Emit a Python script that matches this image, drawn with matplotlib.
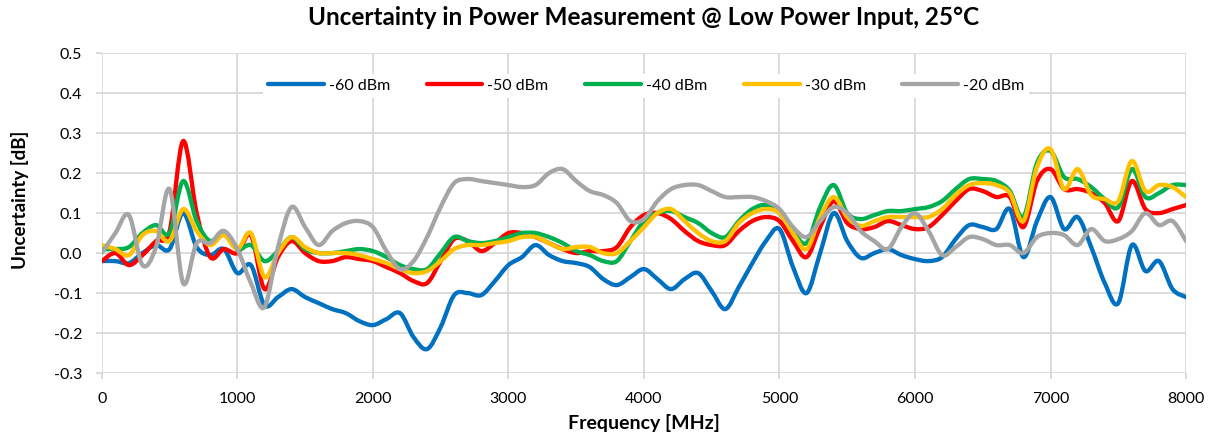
import numpy as np
import matplotlib.pyplot as plt
from matplotlib.path import Path
from matplotlib.patches import PathPatch
from matplotlib.lines import Line2D

freq_mhz = list(range(0, 8001, 100))

# -60 dBm
u_m60 = [-0.02, -0.02, -0.025, 0.0, 0.02, 0.01, 0.10, 0.015, -0.005, 0.01,
         -0.05, -0.03, -0.13, -0.11, -0.09, -0.11, -0.125, -0.14, -0.15, -0.17,
         -0.18, -0.165, -0.15, -0.21, -0.24, -0.185, -0.105, -0.10, -0.105, -0.07,
         -0.03, -0.01, 0.02, -0.005, -0.02, -0.025, -0.035, -0.065, -0.08, -0.06,
         -0.04, -0.065, -0.09, -0.065, -0.05, -0.095, -0.14, -0.085, -0.025, 0.03,
         0.06, -0.035, -0.10, 0.0, 0.10, 0.03, -0.012, 0.0, 0.01, -0.005,
         -0.015, -0.02, -0.01, 0.035, 0.07, 0.065, 0.06, 0.11, -0.01, 0.08,
         0.14, 0.06, 0.09, 0.015, -0.075, -0.125, 0.02, -0.045, -0.02, -0.09,
         -0.11]
# -50 dBm
u_m50 = [-0.02, 0.0, -0.03, -0.005, 0.03, 0.055, 0.28, 0.10, -0.01, 0.01,
         0.0, 0.045, -0.09, -0.01, 0.03, 0.0, -0.02, -0.02, -0.01, -0.015,
         -0.02, -0.035, -0.05, -0.07, -0.075, -0.02, 0.035, 0.03, 0.005, 0.025,
         0.05, 0.05, 0.04, 0.025, 0.01, 0.0, 0.005, 0.005, 0.015, 0.065,
         0.095, 0.10, 0.085, 0.055, 0.03, 0.02, 0.02, 0.055, 0.08, 0.09,
         0.08, 0.03, -0.01, 0.065, 0.13, 0.075, 0.06, 0.065, 0.08, 0.07,
         0.06, 0.065, 0.095, 0.13, 0.16, 0.155, 0.14, 0.14, 0.065, 0.18,
         0.21, 0.16, 0.16, 0.15, 0.125, 0.08, 0.18, 0.11, 0.10, 0.11,
         0.12]
# -40 dBm
u_m40 = [0.01, 0.01, 0.015, 0.05, 0.07, 0.05, 0.18, 0.08, 0.03, 0.055,
         0.01, 0.02, -0.02, 0.005, 0.04, 0.01, 0.0, 0.0, 0.005, 0.01,
         0.005, -0.01, -0.03, -0.04, -0.04, 0.0, 0.04, 0.03, 0.025, 0.03,
         0.04, 0.05, 0.05, 0.04, 0.025, 0.005, -0.005, -0.02, -0.02, 0.03,
         0.08, 0.10, 0.105, 0.09, 0.075, 0.05, 0.04, 0.08, 0.11, 0.12,
         0.10, 0.055, 0.025, 0.115, 0.17, 0.10, 0.085, 0.095, 0.105, 0.105,
         0.11, 0.115, 0.13, 0.16, 0.185, 0.185, 0.18, 0.155, 0.09, 0.225,
         0.255, 0.19, 0.185, 0.165, 0.135, 0.115, 0.21, 0.14, 0.15, 0.17,
         0.17]
# -30 dBm
u_m30 = [0.02, 0.01, -0.005, 0.045, 0.055, 0.03, 0.11, 0.055, 0.02, 0.045,
         0.01, 0.05, -0.06, 0.0, 0.04, 0.015, 0.0, 0.0, 0.0, -0.005,
         -0.015, -0.025, -0.04, -0.05, -0.045, -0.02, 0.01, 0.02, 0.02, 0.025,
         0.03, 0.04, 0.04, 0.025, 0.01, 0.015, 0.015, 0.0, 0.0, 0.03,
         0.065, 0.10, 0.11, 0.08, 0.05, 0.03, 0.03, 0.075, 0.10, 0.11,
         0.10, 0.05, 0.01, 0.09, 0.14, 0.09, 0.068, 0.08, 0.09, 0.09,
         0.09, 0.09, 0.11, 0.145, 0.17, 0.175, 0.17, 0.15, 0.08, 0.215,
         0.26, 0.16, 0.21, 0.145, 0.135, 0.13, 0.23, 0.155, 0.17, 0.165,
         0.14]
# -20 dBm
u_m20 = [0.0, 0.05, 0.095, -0.03, 0.015, 0.16, -0.075, 0.025, 0.025, 0.055,
         0.01, -0.075, -0.135, 0.015, 0.115, 0.065, 0.02, 0.055, 0.075, 0.08,
         0.065, 0.005, -0.04, -0.02, 0.04, 0.115, 0.175, 0.185, 0.18, 0.175,
         0.17, 0.165, 0.17, 0.20, 0.21, 0.18, 0.155, 0.145, 0.125, 0.08,
         0.085, 0.13, 0.16, 0.17, 0.17, 0.155, 0.14, 0.14, 0.14, 0.13,
         0.11, 0.065, 0.04, 0.08, 0.115, 0.10, 0.055, 0.03, 0.01, 0.065,
         0.10, 0.055, -0.005, 0.015, 0.04, 0.035, 0.02, 0.02, 0.0, 0.04,
         0.05, 0.045, 0.02, 0.06, 0.03, 0.035, 0.055, 0.10, 0.07, 0.08,
         0.03]

labels = ['-60 dBm', '-50 dBm', '-40 dBm', '-30 dBm', '-20 dBm']
colors = ['#0070C0', '#FF0000', '#00B050', '#FFC000', '#A5A5A5']
series = [u_m60, u_m50, u_m40, u_m30, u_m20]

FONT = 'Lato'


def smooth_path(x, y):
    # Excel-style smoothed line: cubic Bezier segments, Catmull-Rom control points
    x = np.asarray(x, float)
    y = np.asarray(y, float)
    px = np.concatenate([[x[0]], x, [x[-1]]])
    py = np.concatenate([[y[0]], y, [y[-1]]])
    verts = [(x[0], y[0])]
    codes = [Path.MOVETO]
    for i in range(len(x) - 1):
        j = i + 1
        c1 = (px[j] + (px[j + 1] - px[j - 1]) / 6, py[j] + (py[j + 1] - py[j - 1]) / 6)
        c2 = (px[j + 1] - (px[j + 2] - px[j]) / 6, py[j + 1] - (py[j + 2] - py[j]) / 6)
        verts += [c1, c2, (x[i + 1], y[i + 1])]
        codes += [Path.CURVE4] * 3
    return Path(verts, codes)


fig = plt.figure(figsize=(12.12, 4.4), dpi=100)
ax = fig.add_axes([0.084, 0.152, 0.8946, 0.7275])

handles = []
for vals, c, lab in zip(series, colors, labels):
    ax.add_patch(PathPatch(smooth_path(freq_mhz, vals), fill=False, edgecolor=c,
                           lw=3.1, capstyle='round', joinstyle='round'))
    handles.append(Line2D([], [], color=c, lw=3.1, solid_capstyle='round', label=lab))

ax.set_xlim(0, 8000)
ax.set_ylim(-0.3, 0.5)
ax.set_xticks(np.arange(0, 8001, 1000))
ax.set_yticks(np.round(np.arange(-0.3, 0.51, 0.1), 1))
ax.set_yticklabels([f'{v:.1f}' for v in np.arange(-0.3, 0.51, 0.1)])
ax.grid(True, color='#D9D9D9', lw=1.3)
ax.set_axisbelow(True)
for s in ax.spines.values():
    s.set_visible(False)
ax.tick_params(length=4.5, width=1.3, color='#D9D9D9', labelsize=11.5)
ax.tick_params(axis='x', pad=9)
ax.tick_params(axis='y', pad=9.5)
for t in ax.get_xticklabels() + ax.get_yticklabels():
    t.set_fontfamily(FONT)

ax.set_xlabel('Frequency [MHz]', fontsize=14, fontweight='bold', family=FONT)
ax.xaxis.set_label_coords(0.5, -0.128)
ax.set_ylabel('Uncertainty [dB]', fontsize=13.5, fontweight='bold', family=FONT)
ax.yaxis.set_label_coords(-0.0673, 0.54)
ax.set_title('Uncertainty in Power Measurement @ Low Power Input, 25°C',
             fontsize=17.5, fontweight='bold', family=FONT, pad=20)

leg = ax.legend(handles=handles, ncol=5, loc='upper center', bbox_to_anchor=(0.502, 0.96),
                frameon=True, framealpha=1, edgecolor='none', handlelength=3.5,
                handletextpad=0.3, columnspacing=2.3, borderpad=0.3,
                prop={'family': FONT, 'size': 11.5})

fig.savefig('out.png', dpi=100)
